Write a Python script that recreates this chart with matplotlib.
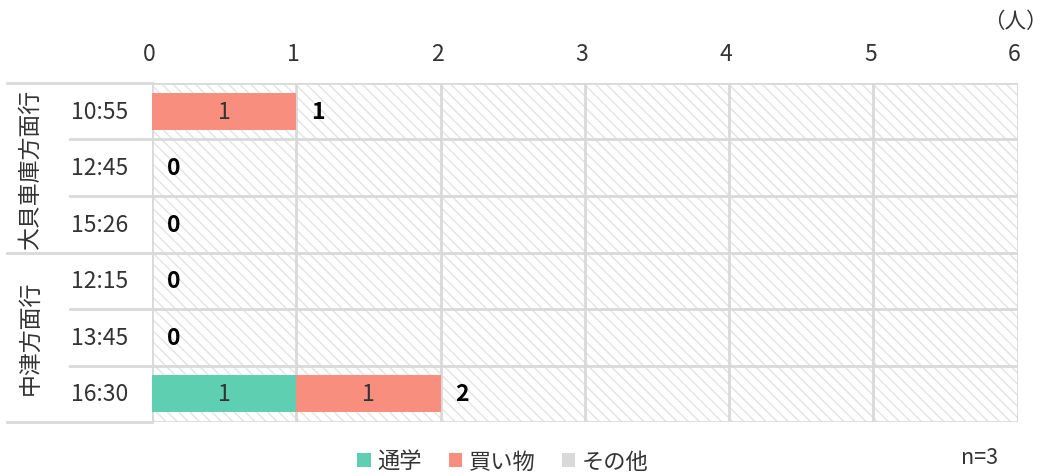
import matplotlib
matplotlib.use('Agg')
import matplotlib.pyplot as plt
from matplotlib.patches import Rectangle
import matplotlib.transforms as mtransforms
import numpy as np

plt.rcParams['font.family'] = ['Noto Sans CJK JP', 'DejaVu Sans']
plt.rcParams['hatch.linewidth'] = 1.0

times = ['10:55', '12:45', '15:26', '12:15', '13:45', '16:30']
groups = ['大貝車庫方面行', '中津方面行']
group_sizes = [3, 3]
series = ['通学', '買い物', 'その他']
tsugaku = [0, 0, 0, 0, 0, 1]
kaimono = [1, 0, 0, 0, 0, 1]
sonota = [0, 0, 0, 0, 0, 0]
colors = ['#5ecfb1', '#f88f7e', '#d9d9d9']
xticks = [0, 1, 2, 3, 4, 5, 6]

txt = '#333333'
grid = '#d9d9d9'
fs = 16.5

fig = plt.figure(figsize=(10.48, 4.77), dpi=100)
ax = fig.add_axes([0.145, 0.113, 0.826, 0.711])

# hatched background
bg = Rectangle((0, 0), 1, 1, transform=ax.transAxes, facecolor='white',
               edgecolor='#e3e3e3', hatch='\\\\\\', lw=0, zorder=0)
ax.add_patch(bg)

y = np.arange(len(times))
data = [tsugaku, kaimono, sonota]
left = np.zeros(len(times))
for vals, name, c in zip(data, series, colors):
    vals = np.array(vals, dtype=float)
    bars = ax.barh(y, vals, left=left, height=0.65, color=c, label=name, zorder=3)
    for b, v in zip(bars, vals):
        if v > 0:
            ax.text(b.get_x() + b.get_width() / 2, b.get_y() + b.get_height() / 2,
                    f'{int(v)}', ha='center', va='center', fontsize=fs,
                    color=txt, zorder=4)
    left += vals

for i, tot in enumerate(left):
    ax.text(tot + 0.15, i, f'{int(tot)}', ha='center', va='center',
            fontsize=fs, fontweight='bold', color='black', zorder=4)

ax.set_xlim(0, 6)
ax.set_ylim(len(times) - 0.5, -0.5)
ax.xaxis.tick_top()
ax.set_xticks(xticks)
ax.set_xticklabels([str(t) for t in xticks])
ax.tick_params(axis='x', length=0, pad=13, labelsize=fs, labelcolor=txt)
# tick labels sit a little left of the gridlines in the reference
shift = mtransforms.ScaledTranslation(-3 / 100, 0, fig.dpi_scale_trans)
for lab in ax.get_xticklabels():
    lab.set_transform(lab.get_transform() + shift)
ax.set_yticks([])
for s in ax.spines.values():
    s.set_visible(False)

for xv in xticks:
    ax.axvline(xv, color=grid, lw=2, zorder=2)
for yv in np.arange(-0.5, len(times), 1):
    ax.axhline(yv, color=grid, lw=2, zorder=2)

# row label table on the left
tr = mtransforms.blended_transform_factory(ax.transAxes, ax.transData)
bounds = np.cumsum([0] + group_sizes) - 0.5
for yv in np.arange(-0.5, len(times), 1):
    x0 = -0.167 if yv in bounds else -0.095
    ax.plot([x0, 0], [yv, yv], color=grid, lw=2, transform=tr, clip_on=False)
for i, t in enumerate(times):
    ax.text(-0.061, i, t, ha='center', va='center', fontsize=fs, color=txt,
            transform=tr)
start = 0
for g, n in zip(groups, group_sizes):
    ax.text(-0.141, start + (n - 1) / 2, g, ha='center', va='center',
            fontsize=fs, color=txt, rotation=90, transform=tr)
    start += n

fig.text(0.969, 0.955, '（人）', ha='center', va='center', fontsize=fs - 1, color=txt)
fig.text(0.935, 0.04, 'n=3', ha='center', va='center', fontsize=fs - 1, color=txt)

leg = fig.legend(loc='center', bbox_to_anchor=(0.48, 0.03), ncol=3, frameon=False,
                 fontsize=fs - 0.5, handlelength=0.6, handleheight=0.6, handletextpad=0.3,
                 columnspacing=1.2)
for t in leg.get_texts():
    t.set_color(txt)

fig.savefig('out.png', dpi=100)
